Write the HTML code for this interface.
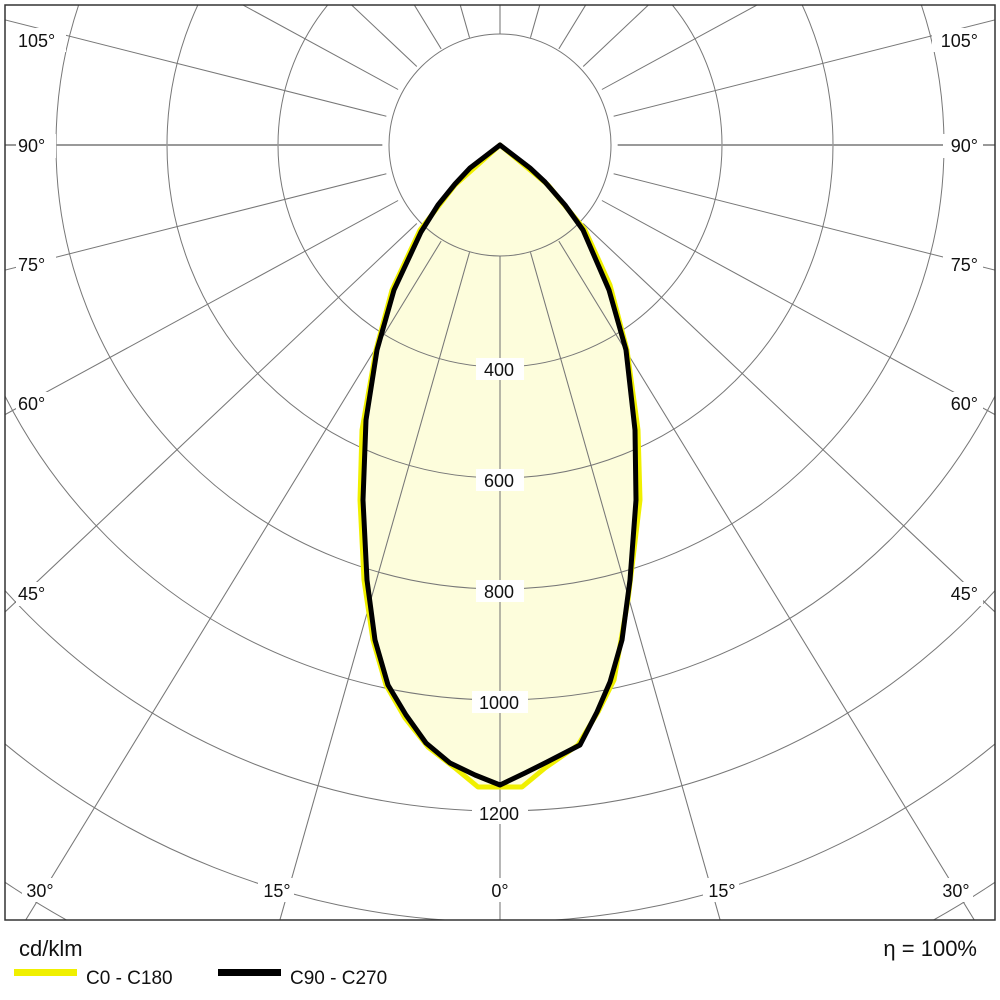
<!DOCTYPE html>
<html><head><meta charset="utf-8"><style>
html,body{margin:0;padding:0;background:#fff;overflow:hidden}
svg{display:block}
text{font-family:"Liberation Sans",Arial,sans-serif;fill:#111}
</style></head><body>
<svg width="1000" height="1000" viewBox="0 0 1000 1000" xmlns="http://www.w3.org/2000/svg">
<defs><clipPath id="c"><rect x="5" y="5" width="990" height="915"/></clipPath></defs>
<rect width="1000" height="1000" fill="#fff"/>
<g clip-path="url(#c)">
<path d="M500,145 L455,185 L420,230 L392,290 L376,350 L362,430 L360,500 L364,580 L373,640 L386,685 L405,718 L428,747 L455,768 L478,787 L522,787 L545,768 L578,745 L598,712 L614,680 L628,600 L640,500 L638,430 L627,350 L610,285 L585,230 L548,185 Z" fill="#fdfddc"/>
<g stroke="#777" stroke-width="1" fill="none">
<circle cx="500" cy="145" r="111"/><circle cx="500" cy="145" r="222"/><circle cx="500" cy="145" r="333"/><circle cx="500" cy="145" r="444"/><circle cx="500" cy="145" r="555"/><circle cx="500" cy="145" r="666"/><circle cx="500" cy="145" r="777"/><circle cx="500" cy="145" r="888"/><circle cx="500" cy="145" r="999"/><circle cx="500" cy="145" r="1110"/><circle cx="500" cy="145" r="1221"/>
<g transform="translate(500 145) scale(1.06 1) translate(-500 -145)">
<line x1="500" y1="256" x2="500" y2="1500"/>
<line x1="500" y1="256" x2="500" y2="1500" transform="rotate(15 500 145)"/>
<line x1="500" y1="256" x2="500" y2="1500" transform="rotate(30 500 145)"/>
<line x1="500" y1="256" x2="500" y2="1500" transform="rotate(45 500 145)"/>
<line x1="500" y1="256" x2="500" y2="1500" transform="rotate(60 500 145)"/>
<line x1="500" y1="256" x2="500" y2="1500" transform="rotate(75 500 145)"/>
<line x1="500" y1="256" x2="500" y2="1500" transform="rotate(90 500 145)" stroke="#999" stroke-width="2"/>
<line x1="500" y1="256" x2="500" y2="1500" transform="rotate(105 500 145)"/>
<line x1="500" y1="256" x2="500" y2="1500" transform="rotate(120 500 145)"/>
<line x1="500" y1="256" x2="500" y2="1500" transform="rotate(135 500 145)"/>
<line x1="500" y1="256" x2="500" y2="1500" transform="rotate(150 500 145)"/>
<line x1="500" y1="256" x2="500" y2="1500" transform="rotate(165 500 145)"/>
<line x1="500" y1="256" x2="500" y2="1500" transform="rotate(180 500 145)"/>
<line x1="500" y1="256" x2="500" y2="1500" transform="rotate(-15 500 145)"/>
<line x1="500" y1="256" x2="500" y2="1500" transform="rotate(-30 500 145)"/>
<line x1="500" y1="256" x2="500" y2="1500" transform="rotate(-45 500 145)"/>
<line x1="500" y1="256" x2="500" y2="1500" transform="rotate(-60 500 145)"/>
<line x1="500" y1="256" x2="500" y2="1500" transform="rotate(-75 500 145)"/>
<line x1="500" y1="256" x2="500" y2="1500" transform="rotate(-90 500 145)" stroke="#999" stroke-width="2"/>
<line x1="500" y1="256" x2="500" y2="1500" transform="rotate(-105 500 145)"/>
<line x1="500" y1="256" x2="500" y2="1500" transform="rotate(-120 500 145)"/>
<line x1="500" y1="256" x2="500" y2="1500" transform="rotate(-135 500 145)"/>
<line x1="500" y1="256" x2="500" y2="1500" transform="rotate(-150 500 145)"/>
<line x1="500" y1="256" x2="500" y2="1500" transform="rotate(-165 500 145)"/>
</g></g>
<path d="M500,145 L455,185 L420,230 L392,290 L376,350 L362,430 L360,500 L364,580 L373,640 L386,685 L405,718 L428,747 L455,768 L478,787 L522,787 L545,768 L578,745 L598,712 L614,680 L628,600 L640,500 L638,430 L627,350 L610,285 L585,230 L548,185 Z" fill="none" stroke="#f0f000" stroke-width="5" stroke-linejoin="round"/>
<path d="M500,145 L470,168 L455,184 L438,205 L421,232 L394,290 L377,350 L366,420 L363,500 L367,580 L375,640 L388,685 L406,715 L426,743 L450,763 L475,775 L500,785 L525,773 L547,762 L580,745 L597,712 L610,682 L622,640 L630,580 L636,500 L635,430 L626,350 L609,290 L583,230 L565,205 L545,182 L530,168 Z" fill="none" stroke="#000" stroke-width="5" stroke-linejoin="round"/>
</g>
<rect x="5" y="5" width="990" height="915" fill="none" stroke="#333" stroke-width="1.5"/>
<g font-size="18">
<g fill="#fff" stroke="none">
<rect x="16" y="28" width="50" height="24"/><rect x="932" y="28" width="50" height="24"/>
<rect x="16" y="134" width="40" height="24"/><rect x="943" y="134" width="40" height="24"/>
<rect x="16" y="253" width="40" height="24"/><rect x="943" y="253" width="40" height="24"/>
<rect x="16" y="392" width="40" height="24"/><rect x="943" y="392" width="40" height="24"/>
<rect x="16" y="582" width="40" height="24"/><rect x="943" y="582" width="40" height="24"/>
<rect x="22" y="878" width="36" height="24"/><rect x="258" y="878" width="36" height="24"/><rect x="484" y="878" width="28" height="24"/><rect x="703" y="878" width="36" height="24"/><rect x="937" y="878" width="36" height="24"/>
<rect x="476" y="358" width="48" height="22"/><rect x="476" y="469" width="48" height="22"/><rect x="476" y="580" width="48" height="22"/><rect x="472" y="691" width="56" height="22"/><rect x="472" y="802" width="56" height="22"/>
</g>
<text x="18" y="47">105°</text><text x="978" y="47" text-anchor="end">105°</text>
<text x="18" y="152">90°</text><text x="978" y="152" text-anchor="end">90°</text>
<text x="18" y="271">75°</text><text x="978" y="271" text-anchor="end">75°</text>
<text x="18" y="410">60°</text><text x="978" y="410" text-anchor="end">60°</text>
<text x="18" y="600">45°</text><text x="978" y="600" text-anchor="end">45°</text>
<text x="40" y="897" text-anchor="middle">30°</text><text x="277" y="897" text-anchor="middle">15°</text><text x="500" y="897" text-anchor="middle">0°</text><text x="722" y="897" text-anchor="middle">15°</text><text x="956" y="897" text-anchor="middle">30°</text>
<text x="499" y="376" text-anchor="middle">400</text>
<text x="499" y="487" text-anchor="middle">600</text>
<text x="499" y="598" text-anchor="middle">800</text>
<text x="499" y="709" text-anchor="middle">1000</text>
<text x="499" y="820" text-anchor="middle">1200</text>
</g>
<text x="19" y="956" font-size="22">cd/klm</text>
<text x="977" y="956" font-size="22" text-anchor="end">η = 100%</text>
<rect x="14" y="969" width="63" height="7" fill="#f0f000"/>
<rect x="218" y="969" width="63" height="7" fill="#000"/>
<text x="86" y="984" font-size="19">C0 - C180</text>
<text x="290" y="984" font-size="19">C90 - C270</text>
</svg>
</body></html>
